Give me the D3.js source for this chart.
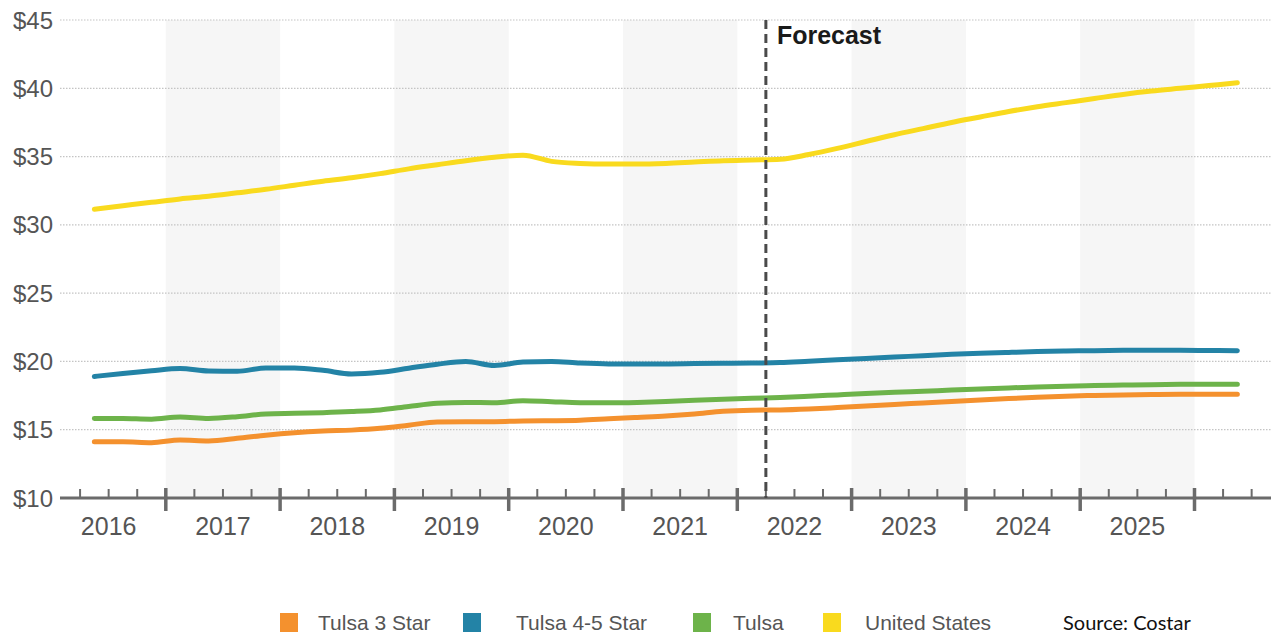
<!DOCTYPE html>
<html>
<head>
<meta charset="utf-8">
<script src="https://cdn.jsdelivr.net/npm/d3@7"></script>
<style>
  html, body { margin: 0; padding: 0; background: #fff; }
  svg { display: block; }
</style>
</head>
<body>
<svg id="chart" width="1271" height="635"></svg>
<script>
// Quarterly asking rent per square foot, mid-quarter points
const quarters = [
  "2016Q2","2016Q3","2016Q4","2017Q1","2017Q2","2017Q3","2017Q4","2018Q1",
  "2018Q2","2018Q3","2018Q4","2019Q1","2019Q2","2019Q3","2019Q4","2020Q1",
  "2020Q2","2020Q3","2020Q4","2021Q1","2021Q2","2021Q3","2021Q4","2022Q1",
  "2022Q2","2022Q3","2022Q4","2023Q1","2023Q2","2023Q3","2023Q4","2024Q1",
  "2024Q2","2024Q3","2024Q4","2025Q1","2025Q2","2025Q3","2025Q4","2026Q1",
  "2026Q2"
];

const tulsa3Star = [
  14.12,14.12,14.05,14.25,14.18,14.37,14.60,14.78,14.90,14.97,
  15.10,15.33,15.57,15.58,15.59,15.64,15.66,15.70,15.80,15.90,
  16.00,16.15,16.35,16.43,16.45,16.52,16.62,16.73,16.85,16.96,
  17.07,17.18,17.28,17.37,17.45,17.51,17.55,17.58,17.60,17.60,
  17.60
];

const tulsa45Star = [
  18.90,19.12,19.32,19.48,19.30,19.28,19.52,19.52,19.35,19.08,
  19.20,19.50,19.80,20.00,19.70,19.95,20.00,19.88,19.82,19.82,
  19.82,19.84,19.86,19.88,19.92,20.02,20.12,20.22,20.32,20.42,
  20.52,20.60,20.66,20.72,20.76,20.79,20.81,20.82,20.82,20.80,
  20.78
];

const tulsa = [
  15.83,15.82,15.77,15.93,15.83,15.95,16.15,16.20,16.25,16.33,
  16.45,16.70,16.93,17.00,16.98,17.12,17.05,16.98,16.97,17.00,
  17.06,17.15,17.23,17.30,17.36,17.45,17.55,17.65,17.74,17.82,
  17.90,17.98,18.06,18.13,18.19,18.24,18.27,18.30,18.32,18.33,
  18.33
];

const unitedStates = [
  31.15,31.40,31.65,31.90,32.10,32.35,32.60,32.90,33.20,33.45,
  33.75,34.10,34.40,34.70,34.95,35.10,34.65,34.50,34.45,34.45,
  34.50,34.60,34.70,34.75,34.80,35.15,35.60,36.10,36.60,37.05,
  37.50,37.90,38.30,38.65,38.95,39.25,39.55,39.80,40.00,40.20,
  40.40
];

const seriesNames  = ["Tulsa 3 Star", "Tulsa 4-5 Star", "Tulsa", "United States"];
const seriesColors = ["#f4912e", "#2383a6", "#6db34a", "#f9da1e"];
const seriesValues = [tulsa3Star, tulsa45Star, tulsa, unitedStates];

const yTicks = [10, 15, 20, 25, 30, 35, 40, 45];
const yearLabels = ["2016","2017","2018","2019","2020","2021","2022","2023","2024","2025"];
const shadedYears = [2017, 2019, 2021, 2023, 2025];
const forecastStart = "2022Q2";
const forecastLabel = "Forecast";
const sourceNote = "Source: Costar";

// quarter label -> fractional year position
const qStart = q => +q.slice(0, 4) + (+q.slice(5) - 1) * 0.25;
const qMid = q => qStart(q) + 0.125;

const svg = d3.select("#chart");
const W = 1271;
const plotLeft = 60, plotRight = W, plotTop = 20, plotBottom = 498;

const x = d3.scaleLinear().domain([2016, 2027]).range([51.5, 1308.8]);
const y = d3.scaleLinear().domain([10, 45]).range([plotBottom, plotTop]);

// alternating year bands
svg.append("g").selectAll("rect").data(shadedYears).join("rect")
  .attr("x", d => x(d)).attr("width", d => x(d + 1) - x(d))
  .attr("y", plotTop).attr("height", plotBottom - plotTop)
  .attr("fill", "#f6f6f6");

// horizontal dotted gridlines
svg.append("g").selectAll("line").data(yTicks.filter(v => v > 10)).join("line")
  .attr("x1", plotLeft).attr("x2", plotRight)
  .attr("y1", d => y(d)).attr("y2", d => y(d))
  .attr("stroke", "#c4c4c4").attr("stroke-width", 1.2)
  .attr("stroke-dasharray", "1.5,1.5");

// y labels
svg.append("g").selectAll("text").data(yTicks).join("text")
  .attr("x", 53).attr("y", d => y(d) + 8.5)
  .attr("text-anchor", "end")
  .attr("font-family", "Liberation Sans, Arial, sans-serif")
  .attr("font-size", 24).attr("fill", "#555")
  .text(d => "$" + d);

// x axis
const axisG = svg.append("g");
axisG.append("line")
  .attr("x1", plotLeft).attr("x2", plotRight).attr("y1", plotBottom).attr("y2", plotBottom)
  .attr("stroke", "#6b6b6b").attr("stroke-width", 3);

const minorTicks = d3.range(2016.25, 2026.75, 0.25).filter(t => t % 1 !== 0);
const majorTicks = d3.range(2017, 2027);

axisG.selectAll("line.minor").data(minorTicks).join("line")
  .attr("class", "minor")
  .attr("x1", d => x(d)).attr("x2", d => x(d))
  .attr("y1", plotBottom - 9).attr("y2", plotBottom)
  .attr("stroke", "#6b6b6b").attr("stroke-width", 2);

axisG.selectAll("line.major").data(majorTicks).join("line")
  .attr("class", "major")
  .attr("x1", d => x(d)).attr("x2", d => x(d))
  .attr("y1", plotBottom - 10).attr("y2", plotBottom + 13)
  .attr("stroke", "#6b6b6b").attr("stroke-width", 3.5);

axisG.selectAll("text").data(yearLabels).join("text")
  .attr("x", d => x(+d + 0.5)).attr("y", 535)
  .attr("text-anchor", "middle")
  .attr("font-family", "Liberation Sans, Arial, sans-serif")
  .attr("font-size", 25).attr("fill", "#555")
  .text(d => d);

// series lines
const line = d3.line()
  .x((d, i) => x(qMid(quarters[i])))
  .y(d => y(d))
  .curve(d3.curveMonotoneX);

svg.append("g").selectAll("path").data(seriesValues).join("path")
  .attr("d", d => line(d))
  .attr("fill", "none")
  .attr("stroke", (d, i) => seriesColors[i])
  .attr("stroke-width", 5)
  .attr("stroke-linecap", "round")
  .attr("stroke-linejoin", "round");

// forecast divider
const fx = x(qStart(forecastStart));
svg.append("line")
  .attr("x1", fx).attr("x2", fx).attr("y1", plotTop).attr("y2", plotBottom)
  .attr("stroke", "#4a4a4a").attr("stroke-width", 3)
  .attr("stroke-dasharray", "9,5");

svg.append("text")
  .attr("x", fx + 11).attr("y", 44)
  .attr("font-family", "Liberation Sans, Arial, sans-serif")
  .attr("font-size", 25).attr("font-weight", "bold").attr("fill", "#1a1a1a")
  .text(forecastLabel);

// legend
const legendX = [280, 463, 693, 823];
const legend = svg.append("g").selectAll("g").data(seriesNames).join("g")
  .attr("transform", (d, i) => `translate(${legendX[i]},0)`);
legend.append("rect")
  .attr("x", 0).attr("y", 613).attr("width", 18).attr("height", 19)
  .attr("fill", (d, i) => seriesColors[i]);
legend.append("text")
  .attr("x", (d, i) => [38, 53, 40, 42][i]).attr("y", 630)
  .attr("font-family", "Liberation Sans, Arial, sans-serif")
  .attr("font-size", 21).attr("fill", "#555")
  .text(d => d);

svg.append("text")
  .attr("x", 1063).attr("y", 630)
  .attr("font-family", "Lato, 'Open Sans', sans-serif")
  .attr("font-size", 20).attr("fill", "#111")
  .text(sourceNote);
</script>
</body>
</html>
